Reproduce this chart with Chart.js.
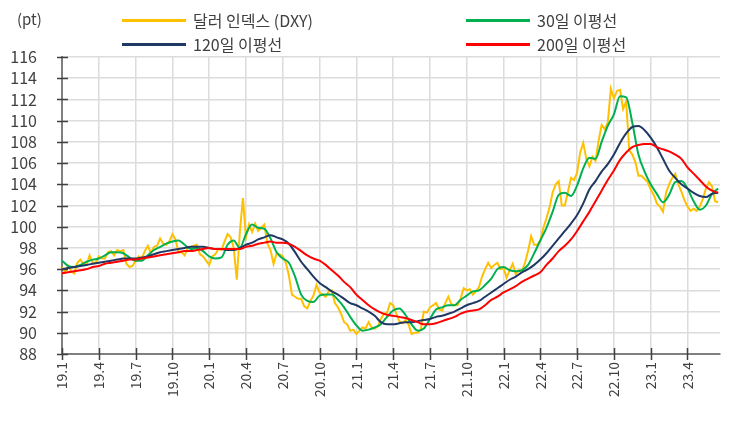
<!DOCTYPE html>
<html>
<head>
<meta charset="utf-8">
<script src="https://cdn.jsdelivr.net/npm/chart.js@4/dist/chart.umd.min.js"></script>
<style>
  html, body { margin: 0; padding: 0; background: #fff; }
  #wrap { position: relative; width: 730px; height: 428px; font-family: 'Noto Sans CJK KR', 'Noto Sans', sans-serif; color: #404040; }
  #unit { position: absolute; left: 17px; top: 8px; font-size: 15px; }
  .lg { position: absolute; display: flex; align-items: center; font-size: 16px; white-space: nowrap; }
  .lg i { display: inline-block; width: 64px; height: 3px; margin-right: 7px; }
</style>
</head>
<body>
<div id="wrap">
  <canvas id="dxyChart" width="730" height="428"></canvas>
  <div id="unit">(pt)</div>
  <div class="lg" style="left:122px; top:8px;"><i style="background:#FFC000"></i>달러 인덱스 (DXY)</div>
  <div class="lg" style="left:466px; top:8px;"><i style="background:#00B050"></i>30일 이평선</div>
  <div class="lg" style="left:122px; top:32px;"><i style="background:#1F3864"></i>120일 이평선</div>
  <div class="lg" style="left:466px; top:32px;"><i style="background:#FF0000"></i>200일 이평선</div>
</div>
<script>
// x axis: months since 2019.1, one tick per quarter
const tickLabels = ['19.1', '19.4', '19.7', '19.10', '20.1', '20.4', '20.7', '20.10', '21.1',
  '21.4', '21.7', '21.10', '22.1', '22.4', '22.7', '22.10', '23.1', '23.4'];

// dollar index, weekly (4 per month), 2019.1 ~ 2023.6 mid
const dxy = [
  96.2, 95.7, 96.3, 95.8,  95.6, 96.6, 96.9, 96.5,  96.4, 97.3, 96.6, 96.6,
  97.2, 97.0, 97.0, 97.6,  97.7, 97.3, 97.8, 97.7,  97.8, 96.5, 96.2, 96.3,
  96.8, 97.2, 97.0, 97.7,  98.2, 97.5, 98.1, 98.2,  98.9, 98.4, 98.3, 98.6,
  99.3, 98.8, 97.6, 97.6,  97.3, 98.0, 98.1, 98.2,  98.3, 97.4, 97.2, 96.8,
  96.4, 97.2, 97.4, 97.9,  97.8, 98.6, 99.3, 99.0,  98.0, 95.0, 99.5, 102.7,
  99.0, 100.2, 99.5, 100.3, 99.6, 99.9, 100.2, 98.4, 97.8, 96.5, 97.5, 97.4,
  97.2, 96.6, 95.4, 93.6,  93.4, 93.2, 93.2, 92.5,  92.3, 93.0, 93.5, 94.5,
  93.8, 93.6, 93.4, 93.9,  94.0, 92.8, 92.4, 91.8,  91.0, 90.8, 90.2, 90.3,
  89.9, 90.2, 90.5, 90.4,  91.0, 90.5, 90.4, 90.6,  91.3, 91.8, 91.9, 92.8,
  92.6, 91.8, 91.1, 90.9,  91.2, 90.8, 89.9, 90.0,  90.0, 90.3, 92.0, 91.9,
  92.4, 92.6, 92.8, 92.2,  92.1, 92.8, 93.4, 92.7,  92.6, 92.6, 93.2, 94.2,
  94.0, 94.1, 93.6, 93.9,  94.3, 95.3, 96.0, 96.6,  96.1, 96.4, 96.6, 96.0,
  96.1, 95.2, 95.9, 96.5,  95.5, 95.9, 95.8, 96.6,  97.7, 99.1, 98.3, 98.3,
  98.7, 99.9, 100.8, 101.8, 103.2, 104.0, 104.3, 102.0, 102.0, 103.3, 104.6, 104.4,
  105.1, 107.0, 107.9, 106.4, 105.7, 106.6, 106.2, 108.1, 109.6, 109.2, 109.8, 113.0,
  112.1, 112.8, 112.9, 111.1, 111.8, 107.2, 106.8, 106.1, 104.8, 104.8, 104.5, 104.2,
  103.5, 103.0, 102.2, 101.9, 101.4, 103.2, 104.0, 104.6, 105.0, 104.0, 103.3, 102.5,
  101.9, 101.5, 101.7, 101.5, 101.9, 102.6, 103.6, 104.2, 103.8, 102.4, 102.3,
];

// moving averages, twice a month
const ma30 = [
  96.8, 96.3, 96.2, 96.4, 96.7, 96.9, 97.0, 97.3, 97.6, 97.6, 97.5, 97.1,
  96.8, 96.8, 97.3, 97.8, 98.1, 98.4, 98.6, 98.7, 98.3, 97.9, 98.0, 97.7,
  97.2, 97.0, 97.1, 98.3, 98.7, 98.0, 99.3, 100.2, 99.9, 99.8, 98.9, 97.6,
  97.0, 96.6, 95.3, 93.6, 93.0, 92.9, 93.5, 93.6, 93.6, 93.1, 92.4, 91.5,
  90.7, 90.2, 90.3, 90.5, 90.8, 91.5, 92.1, 92.3, 91.7, 90.8, 90.2, 90.4,
  91.3, 92.2, 92.4, 92.6, 92.6, 93.1, 93.5, 93.9, 94.0, 94.5, 95.1, 96.0,
  96.2, 95.9, 95.8, 95.9, 96.4, 97.5, 98.7, 99.9, 101.4, 103.0, 103.2, 102.9,
  103.9, 105.5, 106.5, 106.4, 108.0, 109.5, 110.6, 112.3, 112.2, 109.8, 106.8, 105.2,
  104.0, 103.1, 102.3, 103.0, 104.2, 104.3, 103.6, 102.4, 101.6, 102.0, 103.1, 103.6,
];
const ma120 = [
  96.0, 96.1, 96.2, 96.3, 96.4, 96.5, 96.6, 96.7, 96.8, 96.9, 97.0, 97.0,
  97.0, 97.1, 97.2, 97.4, 97.6, 97.7, 97.8, 97.9, 98.0, 98.1, 98.1, 98.1,
  98.0, 97.9, 97.9, 97.8, 97.8, 98.0, 98.3, 98.5, 98.8, 99.0, 99.2, 99.0,
  98.8, 98.4, 97.6, 96.7, 96.0, 95.3, 94.7, 94.3, 93.9, 93.6, 93.2, 92.8,
  92.6, 92.3, 92.0, 91.6, 91.0, 90.8, 90.8, 90.9, 91.0, 91.0, 91.1, 91.2,
  91.3, 91.5, 91.6, 91.8, 92.0, 92.3, 92.6, 92.8, 93.0, 93.4, 93.8, 94.2,
  94.6, 95.0, 95.3, 95.7, 96.0, 96.4, 96.9, 97.5, 98.2, 98.9, 99.6, 100.3,
  101.1, 102.2, 103.5, 104.3, 105.2, 105.9, 106.8, 107.9, 108.8, 109.4, 109.5, 109.1,
  108.4, 107.5, 106.4, 105.3, 104.6, 104.0, 103.6, 103.2, 102.9, 102.8, 103.1, 103.2,
];
const ma200 = [
  95.6, 95.7, 95.8, 95.9, 96.0, 96.2, 96.3, 96.5, 96.6, 96.7, 96.8, 96.9,
  96.9, 97.0, 97.1, 97.2, 97.3, 97.4, 97.5, 97.6, 97.7, 97.7, 97.8, 97.9,
  98.0, 97.9, 97.9, 97.9, 97.9, 97.9, 98.1, 98.2, 98.4, 98.5, 98.6, 98.5,
  98.5, 98.4, 98.1, 97.7, 97.3, 97.0, 96.8, 96.4, 95.9, 95.4, 94.8, 94.3,
  93.6, 93.1, 92.6, 92.2, 91.9, 91.7, 91.6, 91.5, 91.4, 91.2, 91.0, 90.8,
  90.8, 90.9, 91.1, 91.3, 91.5, 91.8, 92.0, 92.1, 92.2, 92.6, 93.1, 93.4,
  93.8, 94.1, 94.4, 94.8, 95.1, 95.4, 95.7, 96.4, 97.0, 97.7, 98.2, 98.8,
  99.6, 100.5, 101.4, 102.4, 103.4, 104.4, 105.3, 106.3, 107.0, 107.5, 107.7, 107.8,
  107.8, 107.5, 107.3, 107.1, 106.8, 106.4, 105.6, 105.0, 104.4, 103.8, 103.4, 103.2,
];

const toPoints = (vals, perMonth) => vals.map((v, i) => ({ x: i / perMonth, y: v }));

// tick marks that cross the axis line, like the original
const crossTicks = {
  id: 'crossTicks',
  afterDraw(chart) {
    const { ctx, scales: { x, y } } = chart;
    ctx.save();
    ctx.strokeStyle = '#404040';
    ctx.lineWidth = 1.5;
    ctx.beginPath();
    y.ticks.forEach(t => {
      const py = Math.round(y.getPixelForValue(t.value)) + 0.5;
      ctx.moveTo(x.left - 5, py); ctx.lineTo(x.left + 6, py);
    });
    x.ticks.forEach(t => {
      const px = Math.round(x.getPixelForValue(t.value)) + 0.5;
      ctx.moveTo(px, y.bottom - 6); ctx.lineTo(px, y.bottom + 6);
    });
    ctx.stroke();
    ctx.restore();
  },
};

const line = (label, data, color, width, smooth) => ({
  label, data, borderColor: color, backgroundColor: color, borderWidth: width,
  pointRadius: 0, tension: smooth ? 0.4 : 0, cubicInterpolationMode: smooth ? 'monotone' : 'default',
});

new Chart(document.getElementById('dxyChart'), {
  type: 'line',
  data: {
    // first dataset is drawn on top
    datasets: [
      line('200일 이평선', toPoints(ma200, 2), '#FF0000', 2, true),
      line('120일 이평선', toPoints(ma120, 2), '#1F3864', 2, true),
      line('30일 이평선', toPoints(ma30, 2), '#00B050', 2, true),
      line('달러 인덱스 (DXY)', toPoints(dxy, 4), '#FFC000', 2, false),
    ],
  },
  options: {
    responsive: false,
    animation: false,
    layout: { padding: { top: 57, right: 10, left: 0, bottom: 0 } },
    plugins: { legend: { display: false }, tooltip: { enabled: false } },
    scales: {
      x: {
        type: 'linear', min: 0, max: 53.65,
        afterBuildTicks: s => { s.ticks = tickLabels.map((_, i) => ({ value: i * 3 })); },
        afterFit: s => { s.height = 74; },
        ticks: {
          callback: (v, i) => tickLabels[i],
          autoSkip: false, minRotation: 90, maxRotation: 90, padding: 8,
          color: '#404040', font: { family: "'Noto Sans CJK KR', 'Noto Sans', sans-serif", size: 14 },
        },
        grid: { color: '#dcdcdc', lineWidth: 1.5, drawTicks: false },
        border: { color: '#7f7f7f', width: 2 },
      },
      y: {
        min: 88, max: 116,
        afterFit: s => { s.width = 62; },
        ticks: {
          stepSize: 2, autoSkip: false, padding: 25,
          color: '#404040', font: { family: "'Noto Sans CJK KR', 'Noto Sans', sans-serif", size: 16 },
        },
        grid: { color: '#dcdcdc', lineWidth: 1.5, drawTicks: false },
        border: { color: '#7f7f7f', width: 2 },
      },
    },
  },
  plugins: [crossTicks],
});
</script>
</body>
</html>
